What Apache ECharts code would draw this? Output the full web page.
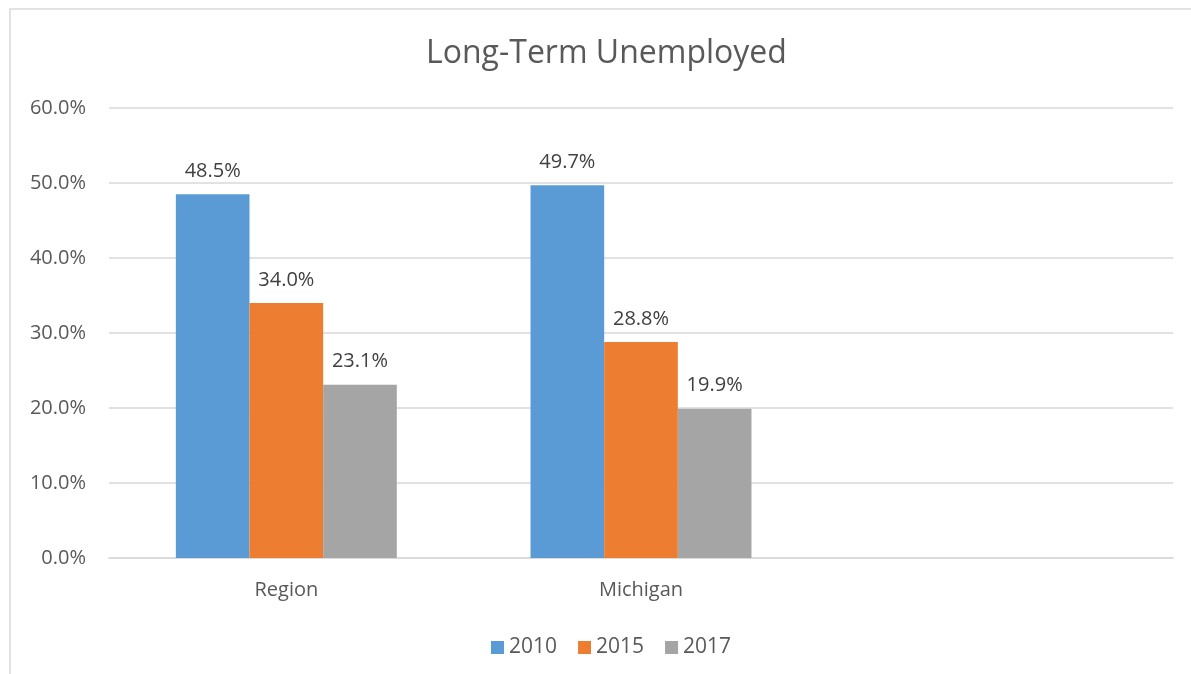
<!DOCTYPE html>
<html>
<head>
<meta charset="utf-8">
<script src="https://cdn.jsdelivr.net/npm/echarts@6/dist/echarts.min.js"></script>
<style>
  html, body { margin: 0; padding: 0; background: #ffffff; }
  #chart { width: 1191px; height: 674px; }
</style>
</head>
<body>
<div id="chart"></div>
<script>
// Share of unemployed who are long-term unemployed, by area and year
const categories = ['Region', 'Michigan', ''];
const years = ['2010', '2015', '2017'];
const values2010 = [48.5, 49.7, null];
const values2015 = [34.0, 28.8, null];
const values2017 = [23.1, 19.9, null];
const yTicks = [0, 10, 20, 30, 40, 50, 60];

const colors = ['#5b9bd5', '#ed7d31', '#a5a5a5'];
const fontFamily = '"Open Sans", "Noto Sans", sans-serif';

function makeSeries(name, data, color) {
  return {
    name: name,
    type: 'bar',
    data: data,
    barGap: '0%',
    barCategoryGap: '37.7%',
    itemStyle: { color: color },
    label: {
      show: true,
      position: 'top',
      distance: 13,
      color: '#404040',
      fontSize: 20,
      fontFamily: fontFamily,
      formatter: p => p.value == null ? '' : p.value.toFixed(1) + '%'
    }
  };
}

const chart = echarts.init(document.getElementById('chart'), null, { renderer: 'canvas' });
chart.setOption({
  animation: false,
  backgroundColor: '#ffffff',
  graphic: [{
    type: 'rect',
    shape: { x: 10, y: 9, width: 1200, height: 700 },
    style: { fill: 'none', stroke: '#d9d9d9', lineWidth: 1.5 },
    silent: true
  }],
  title: {
    text: 'Long-Term Unemployed',
    left: 421,
    top: 33,
    textStyle: { color: '#595959', fontSize: 32, fontWeight: 'normal', fontFamily: fontFamily }
  },
  legend: {
    data: years,
    top: 632,
    left: 486,
    itemWidth: 13,
    itemHeight: 13,
    itemGap: 21,
    icon: 'rect',
    textStyle: { color: '#595959', fontSize: 21, fontFamily: fontFamily }
  },
  grid: { left: 109, right: 18, top: 108, bottom: 116 },
  xAxis: {
    type: 'category',
    data: categories,
    axisLine: { lineStyle: { color: '#d9d9d9', width: 1.5 } },
    axisTick: { show: false },
    axisLabel: { color: '#595959', fontSize: 20, fontFamily: fontFamily, margin: 22 }
  },
  yAxis: {
    type: 'value',
    min: yTicks[0],
    max: yTicks[yTicks.length - 1],
    interval: 10,
    axisLine: { show: false },
    axisTick: { show: false },
    splitLine: { lineStyle: { color: '#d9d9d9', width: 1.5 } },
    axisLabel: {
      color: '#595959', fontSize: 20, fontFamily: fontFamily, margin: 23,
      formatter: v => v.toFixed(1) + '%'
    }
  },
  series: [
    makeSeries(years[0], values2010, colors[0]),
    makeSeries(years[1], values2015, colors[1]),
    makeSeries(years[2], values2017, colors[2])
  ]
});
</script>
</body>
</html>
